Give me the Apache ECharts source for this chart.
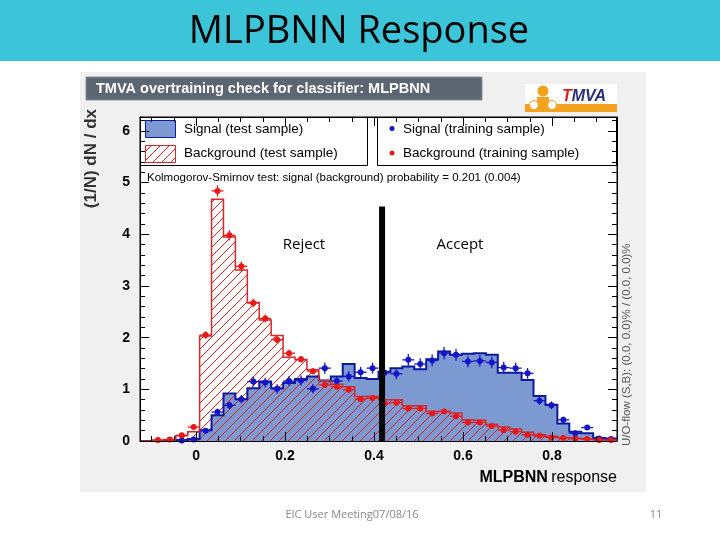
<!DOCTYPE html>
<html><head><meta charset="utf-8">
<script src="https://cdn.jsdelivr.net/npm/echarts@6/dist/echarts.min.js"></script>
<style>html,body{margin:0;padding:0;background:#fff}#c{width:720px;height:540px}</style>
</head><body><div id="c"></div>
<script>
// ---- data ----
const X_MIN = -0.126, X_MAX = 0.946, N_BINS = 40;
const Y_MIN = 0, Y_MAX = 6.27;
const xTickLabels = ['0', '0.2', '0.4', '0.6', '0.8'];
const yTickLabels = ['0', '1', '2', '3', '4', '5', '6'];

const sigTest = [0, 0, 0.01, 0.02, 0.04, 0.21, 0.50, 0.92, 0.81, 1.02,
  1.15, 1.02, 1.12, 1.20, 1.25, 1.17, 1.25, 1.49, 1.22, 1.20,
  1.34, 1.41, 1.44, 1.39, 1.58, 1.73, 1.67, 1.69, 1.70, 1.67,
  1.32, 1.32, 1.18, 0.87, 0.70, 0.34, 0.18, 0.15, 0.06, 0.05];
const bkgTest = [0, 0.01, 0.02, 0.10, 0.18, 2.03, 4.68, 3.95, 3.31, 2.68,
  2.34, 2.04, 1.62, 1.57, 1.38, 1.17, 1.10, 1.05, 0.86, 0.86,
  0.80, 0.80, 0.68, 0.68, 0.57, 0.57, 0.54, 0.41, 0.40, 0.32,
  0.27, 0.23, 0.17, 0.12, 0.09, 0.07, 0.05, 0.04, 0.03, 0.02];
const sigTrain = [null, null, null, 0.01, 0.03, 0.20, 0.56, 0.69, 0.81, 1.15,
  1.13, 1.01, 1.16, 1.17, 1.01, 1.41, 1.16, 1.25, 1.33, 1.41,
  1.32, 1.30, 1.57, 1.49, 1.56, 1.70, 1.67, 1.54, 1.55, 1.52,
  1.42, 1.41, 1.31, 0.78, 0.69, 0.41, 0.15, 0.26, 0.05, 0.04];
const sigTrainErr = [0, 0, 0, 0.01, 0.016, 0.04, 0.067, 0.075, 0.08, 0.097,
  0.096, 0.09, 0.097, 0.097, 0.09, 0.107, 0.097, 0.10, 0.104, 0.107,
  0.103, 0.103, 0.113, 0.11, 0.112, 0.117, 0.116, 0.112, 0.112, 0.111,
  0.107, 0.107, 0.103, 0.08, 0.075, 0.058, 0.035, 0.046, 0.02, 0.018];
const bkgTrain = [null, 0.02, 0.03, 0.11, 0.27, 2.05, 4.84, 3.98, 3.38, 2.67,
  2.37, 1.96, 1.70, 1.58, 1.35, 1.085, 1.05, 0.99, 0.81, 0.83,
  0.73, 0.74, 0.63, 0.63, 0.53, 0.57, 0.48, 0.36, 0.36, 0.29,
  0.21, 0.18, 0.12, 0.10, 0.07, 0.06, 0.05, 0.04, 0.02, 0.02];
const bkgTrainErr = [0, 0.007, 0.009, 0.017, 0.026, 0.072, 0.11, 0.10, 0.092, 0.082,
  0.077, 0.07, 0.065, 0.063, 0.058, 0.052, 0.051, 0.05, 0.045, 0.046,
  0.043, 0.043, 0.04, 0.04, 0.036, 0.038, 0.035, 0.03, 0.03, 0.027,
  0.023, 0.021, 0.017, 0.016, 0.013, 0.012, 0.011, 0.01, 0.007, 0.007];
const cutValue = 0.418, cutTop = 4.54;

// ---- helpers ----
const BIN_W = (X_MAX - X_MIN) / N_BINS;
const edge = i => X_MIN + i * BIN_W;
const center = i => X_MIN + (i + 0.5) * BIN_W;

const SIG_FILL = '#7d99d1', SIG_LINE = '#0b1b9c', SIG_PT = '#1414c8';
const BKG_LINE = '#d42a2a', BKG_PT = '#e81818';

function hatchCanvas() {
  const c = document.createElement('canvas');
  c.width = 9; c.height = 9;
  const g = c.getContext('2d');
  g.strokeStyle = '#d42020'; g.lineWidth = 1;
  g.beginPath();
  g.moveTo(0, 9); g.lineTo(9, 0);
  g.moveTo(-1, 1); g.lineTo(1, -1);
  g.moveTo(8, 10); g.lineTo(10, 8);
  g.stroke();
  return c;
}
const HATCH = { image: hatchCanvas(), repeat: 'repeat' };

function histSeries(vals, fill, stroke, lw, z) {
  return {
    type: 'custom', z: z, silent: true, data: [0], clip: true,
    renderItem: (p, api) => {
      const pts = [api.coord([edge(0), 0])];
      vals.forEach((v, i) => { pts.push(api.coord([edge(i), v])); pts.push(api.coord([edge(i + 1), v])); });
      pts.push(api.coord([edge(N_BINS), 0]));
      const ch = [];
      if (fill) ch.push({ type: 'polygon', shape: { points: pts }, style: { fill: fill, stroke: null } });
      if (stroke) ch.push({ type: 'polyline', shape: { points: pts }, style: { fill: null, stroke: stroke, lineWidth: lw } });
      return { type: 'group', children: ch };
    }
  };
}
function errSeries(vals, errs, color, z) {
  const data = [];
  vals.forEach((v, i) => { if (v !== null) data.push([center(i), v, errs[i]]); });
  return {
    type: 'custom', z: z, silent: true, data: data, clip: true,
    renderItem: (p, api) => {
      const x = api.value(0), v = api.value(1), e = api.value(2);
      const a = api.coord([x, v - e]), b = api.coord([x, v + e]);
      const l = api.coord([x - BIN_W / 2, v]), r = api.coord([x + BIN_W / 2, v]);
      return { type: 'group', children: [
        { type: 'line', shape: { x1: a[0], y1: a[1], x2: b[0], y2: b[1] }, style: { stroke: color, lineWidth: 1.3 } },
        { type: 'line', shape: { x1: l[0], y1: l[1], x2: r[0], y2: r[1] }, style: { stroke: color, lineWidth: 1.3 } }
      ] };
    }
  };
}
function ptSeries(vals, color, z) {
  const data = [];
  vals.forEach((v, i) => { if (v !== null) data.push([center(i), v]); });
  return { type: 'scatter', z: z, silent: true, data: data, symbol: 'circle', symbolSize: 6,
    itemStyle: { color: color, opacity: 1 }, clip: true };
}

const xFmt = v => { const s = Math.abs(v) < 1e-9 ? '0' : String(+v.toFixed(3)); return xTickLabels.includes(s) ? s : ''; };
const yFmt = v => { const s = String(+v.toFixed(3)); return yTickLabels.includes(s) ? s : ''; };

const axisCommon = {
  type: 'value', z: 10,
  axisLine: { show: true, onZero: false, lineStyle: { color: '#000', width: 1 } },
  splitLine: { show: false },
  axisTick: { show: true, inside: true, length: 9, lineStyle: { color: '#000', width: 1 } },
  minorTick: { show: true, length: 5, lineStyle: { color: '#000', width: 1 } }
};
const FONT = 'Liberation Sans, Arial, sans-serif';
const SLIDE_FONT = 'Open Sans, Noto Sans, sans-serif';

const chart = echarts.init(document.getElementById('c'), null, { renderer: 'canvas' });
chart.setOption({
  animation: false,
  backgroundColor: '#ffffff',
  grid: { left: 140, top: 117, width: 477, height: 324, show: true, backgroundColor: '#ffffff', borderColor: '#000', borderWidth: 1, containLabel: false },
  xAxis: [
    Object.assign({}, axisCommon, { position: 'bottom', min: X_MIN, max: X_MAX, splitNumber: 5,
      minorTick: Object.assign({}, axisCommon.minorTick, { splitNumber: 4 }),
      axisLabel: { show: true, formatter: xFmt, color: '#000', fontSize: 14, fontWeight: 'bold', fontFamily: FONT, margin: 8, hideOverlap: false } }),
    Object.assign({}, axisCommon, { position: 'top', min: X_MIN, max: X_MAX, splitNumber: 5,
      minorTick: Object.assign({}, axisCommon.minorTick, { splitNumber: 4 }),
      axisLabel: { show: false } })
  ],
  yAxis: [
    Object.assign({}, axisCommon, { position: 'left', min: Y_MIN, max: Y_MAX, splitNumber: 6,
      minorTick: Object.assign({}, axisCommon.minorTick, { splitNumber: 5 }),
      axisLabel: { show: true, formatter: yFmt, color: '#000', fontSize: 14, fontWeight: 'bold', fontFamily: FONT, margin: 10, hideOverlap: false } }),
    Object.assign({}, axisCommon, { position: 'right', min: Y_MIN, max: Y_MAX, splitNumber: 6,
      minorTick: Object.assign({}, axisCommon.minorTick, { splitNumber: 5 }),
      axisLabel: { show: false } })
  ],
  series: [
    histSeries(sigTest, SIG_FILL, null, 0, 2),
    histSeries(bkgTest, HATCH, null, 0, 3),
    histSeries(sigTest, null, SIG_LINE, 2, 4),
    histSeries(bkgTest, null, BKG_LINE, 1.5, 4),
    errSeries(sigTrain, sigTrainErr, SIG_PT, 5),
    errSeries(bkgTrain, bkgTrainErr, BKG_PT, 5),
    ptSeries(sigTrain, SIG_PT, 6),
    ptSeries(bkgTrain, BKG_PT, 6),
    { type: 'line', z: 7, silent: true, symbol: 'none', data: [[cutValue, Y_MIN], [cutValue, cutTop]],
      lineStyle: { color: '#000', width: 6, cap: 'butt' } }
  ],
  graphic: [
    { type: 'rect', z: -10, shape: { x: 0, y: 0, width: 720, height: 61 }, style: { fill: '#3cc4d8' } },
    { type: 'text', z: 5, x: 359, y: 32, style: { text: 'MLPBNN Response', font: '38px ' + SLIDE_FONT, fill: '#000', align: 'center', verticalAlign: 'middle' } },
    { type: 'rect', z: -10, shape: { x: 80, y: 72, width: 566, height: 420 }, style: { fill: '#f0f0f0' } },
    { type: 'rect', z: 5, shape: { x: 86, y: 77, width: 396, height: 23 }, style: { fill: '#5c6672', stroke: '#8a929c', lineWidth: 1 } },
    { type: 'text', z: 6, x: 96, y: 89, style: { text: 'TMVA overtraining check for classifier: MLPBNN', font: 'bold 14.5px ' + FONT, fill: '#ffffff', align: 'left', verticalAlign: 'middle' } },
    // TMVA logo
    { type: 'group', z: 5, x: 525, y: 84, children: [
      { type: 'rect', shape: { x: 0, y: 0, width: 92, height: 28 }, style: { fill: '#ffffff' } },
      { type: 'rect', shape: { x: 0, y: 20, width: 92, height: 8 }, style: { fill: '#f3a21f' } },
      { type: 'circle', shape: { cx: 18, cy: 7, r: 5.5 }, style: { fill: '#f3a21f' } },
      { type: 'rect', shape: { x: 12, y: 13, width: 12, height: 8 }, style: { fill: '#f3a21f' } },
      { type: 'circle', shape: { cx: 9, cy: 21, r: 4.5 }, style: { fill: '#ffffff', stroke: '#f3a21f', lineWidth: 1 } },
      { type: 'circle', shape: { cx: 27, cy: 21, r: 4.5 }, style: { fill: '#ffffff', stroke: '#f3a21f', lineWidth: 1 } },
      { type: 'text', x: 37, y: 13, style: { text: '{t|T}{m|MVA}', align: 'left', verticalAlign: 'middle',
        rich: { t: { font: 'italic bold 16px ' + FONT, fill: '#d81e1e' }, m: { font: 'italic bold 16px ' + FONT, fill: '#28307a' } } } }
    ] },
    // legends
    { type: 'rect', z: 5, shape: { x: 140.5, y: 117.5, width: 227, height: 48 }, style: { fill: '#ffffff', stroke: '#000', lineWidth: 1 } },
    { type: 'rect', z: 5, shape: { x: 377.5, y: 117.5, width: 239, height: 48 }, style: { fill: '#ffffff', stroke: '#000', lineWidth: 1 } },
    { type: 'rect', z: 6, shape: { x: 145.5, y: 120.5, width: 30, height: 17 }, style: { fill: SIG_FILL, stroke: SIG_LINE, lineWidth: 1 } },
    { type: 'rect', z: 6, shape: { x: 145.5, y: 145.5, width: 30, height: 17 }, style: { fill: HATCH, stroke: BKG_LINE, lineWidth: 1 } },
    { type: 'text', z: 6, x: 184, y: 129, style: { text: 'Signal (test sample)', font: '13.5px ' + FONT, fill: '#000', verticalAlign: 'middle' } },
    { type: 'text', z: 6, x: 184, y: 153, style: { text: 'Background (test sample)', font: '13.5px ' + FONT, fill: '#000', verticalAlign: 'middle' } },
    { type: 'circle', z: 6, shape: { cx: 392, cy: 128.5, r: 2.5 }, style: { fill: SIG_PT } },
    { type: 'circle', z: 6, shape: { cx: 392, cy: 153, r: 2.5 }, style: { fill: BKG_PT } },
    { type: 'text', z: 6, x: 403, y: 129, style: { text: 'Signal (training sample)', font: '13.5px ' + FONT, fill: '#000', verticalAlign: 'middle' } },
    { type: 'text', z: 6, x: 403, y: 153, style: { text: 'Background (training sample)', font: '13.5px ' + FONT, fill: '#000', verticalAlign: 'middle' } },
    { type: 'text', z: 6, x: 147, y: 178, style: { text: 'Kolmogorov-Smirnov test: signal (background) probability = 0.201 (0.004)', font: '11.5px ' + FONT, fill: '#000', verticalAlign: 'middle' } },
    // axis titles
    { type: 'text', z: 6, x: 91, y: 109, rotation: Math.PI / 2, style: { text: '(1/N) dN / dx', font: 'bold 17px ' + FONT, fill: '#333', align: 'right', verticalAlign: 'middle' } },
    { type: 'text', z: 6, x: 617, y: 478, style: { text: '{b|MLPBNN} {n|response}', align: 'right', verticalAlign: 'middle',
      rich: { b: { font: 'bold 16px ' + FONT, fill: '#000' }, n: { font: '16px ' + FONT, fill: '#000' } } } },
    { type: 'text', z: 6, x: 627, y: 446, rotation: Math.PI / 2, style: { text: 'U/O-flow (S,B): (0.0, 0.0)% / (0.0, 0.0)%', font: '11.5px ' + FONT, fill: '#555', align: 'left', verticalAlign: 'middle' } },
    // annotations
    { type: 'text', z: 8, x: 304, y: 245, style: { text: 'Reject', font: '15px ' + SLIDE_FONT, fill: '#000', align: 'center', verticalAlign: 'middle' } },
    { type: 'text', z: 8, x: 460, y: 245, style: { text: 'Accept', font: '15px ' + SLIDE_FONT, fill: '#000', align: 'center', verticalAlign: 'middle' } },
    // footer
    { type: 'text', z: 5, x: 352, y: 515, style: { text: 'EIC User Meeting07/08/16', font: '11px ' + SLIDE_FONT, fill: '#888', align: 'center', verticalAlign: 'middle' } },
    { type: 'text', z: 5, x: 656, y: 515, style: { text: '11', font: '11px ' + SLIDE_FONT, fill: '#888', align: 'center', verticalAlign: 'middle' } }
  ]
});
</script></body></html>
